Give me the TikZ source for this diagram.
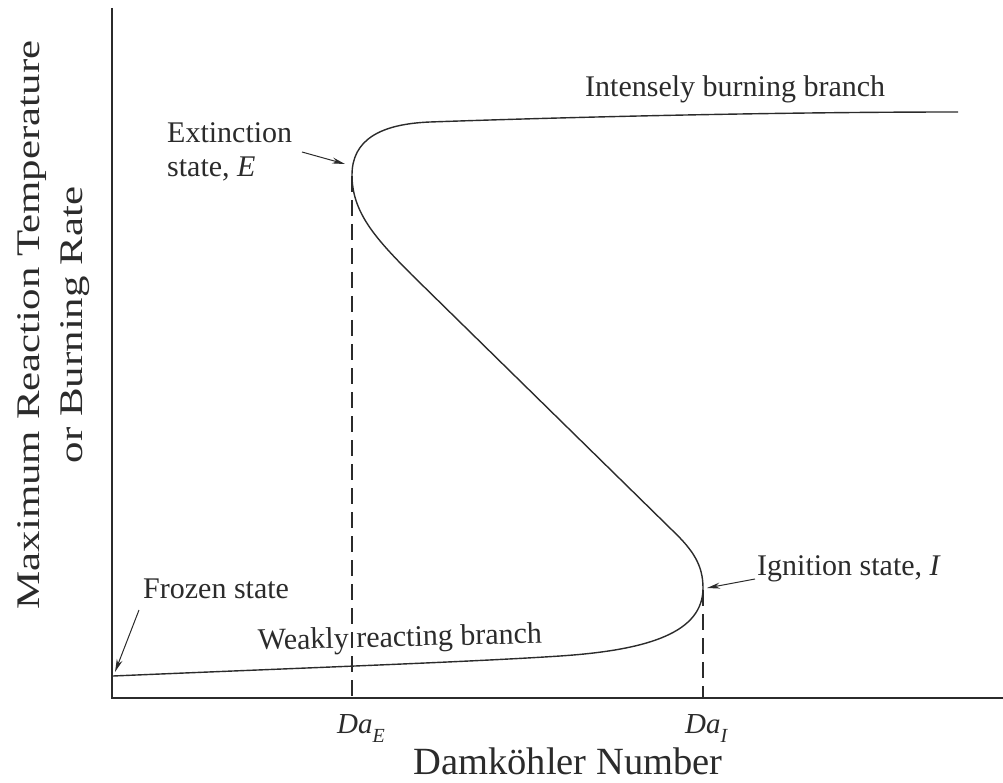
\documentclass[tikz,border=0pt]{standalone}
\usepackage{fontspec}
\setmainfont{Liberation Serif}
\usetikzlibrary{arrows.meta}
\definecolor{ink}{HTML}{2B2B2B}
\begin{document}
\begin{tikzpicture}[x=1pt,y=-1pt,
  axis/.style={line width=1.6pt, draw=ink},
  scurve/.style={line width=1.4pt, draw=ink},
  guide/.style={line width=1.1pt, draw=ink, dash pattern=on 16pt off 8pt},
  pointer/.style={line width=1pt, draw=ink, -{Stealth[length=13pt,width=6pt]}},
  lbl/.style={font=\fontsize{30}{34}\selectfont, text=ink, inner sep=0pt},
  sublbl/.style={font=\fontsize{29}{34}\selectfont\itshape, text=ink, inner sep=0pt},
]
\useasboundingbox (0,0) rectangle (1003,783);

% axes
\coordinate (Ytop) at (112,8);
\coordinate (O) at (112,698);
\coordinate (Xend) at (1003,698);
\draw[axis] (Ytop) -- (O) -- (Xend);

% S-curve
\draw[scurve] (113,676) .. controls (300,668) and (470,662) .. (560,656)
  .. controls (650,650) and (703,632) .. (703,588)
  .. controls (703,565) and (693,550) .. (672,530)
  -- (412,275)
  .. controls (375,238) and (352,212) .. (352,175)
  .. controls (352,140) and (380,124) .. (430,122)
  .. controls (600,116) and (800,112) .. (958,112);

% dashed guides
\coordinate (E) at (352,176);
\coordinate (I) at (703,590);
\coordinate (Ebase) at (352,698);
\coordinate (Ibase) at (703,698);
\draw[guide] (E) -- (Ebase);
\draw[guide] (I) -- (Ibase);

% labels
\node[lbl, anchor=base west] (ext1) at (167,143) {Extinction};
\node[lbl, anchor=base west] (ext2) at (167,177) {state, \textit{E}};
\node[lbl, anchor=base west] (intense) at (585,97) {Intensely burning branch};
\node[lbl, anchor=base west] (ign) at (757,575) {Ignition state, \textit{I}};
\node[lbl, anchor=base west] (froz) at (143,598) {Frozen state};
\node[lbl, anchor=base west, rotate=1.4] (weak) at (258,650) {Weakly reacting branch};
\node[sublbl, anchor=base west] (daE) at (337,733) {Da\raisebox{-9pt}{\fontsize{20}{20}\selectfont E}};
\node[sublbl, anchor=base west] (daI) at (685,733) {Da\raisebox{-9pt}{\fontsize{20}{20}\selectfont I}};
\node[font=\fontsize{38.5}{42}\selectfont, text=ink, inner sep=0pt, anchor=base] (xlab) at (568,774) {Damköhler Number};
\node[rotate=90, inner sep=0pt, text=ink] (ylab) at (52,325)
  {\scalebox{1.3}[1]{\fontsize{33}{43}\selectfont\begin{tabular}{@{}c@{}}Maximum Reaction Temperature\\or Burning Rate\end{tabular}}};

% pointers
\coordinate (extTail) at (302,152);
\coordinate (extTip) at (345,164);
\coordinate (ignTail) at (755,579);
\coordinate (ignTip) at (707,588);
\coordinate (frozTail) at (139,610);
\coordinate (frozTip) at (115,672);
\draw[pointer] (extTail) -- (extTip);
\draw[pointer] (ignTail) -- (ignTip);
\draw[pointer] (frozTail) -- (frozTip);
\end{tikzpicture}
\end{document}
